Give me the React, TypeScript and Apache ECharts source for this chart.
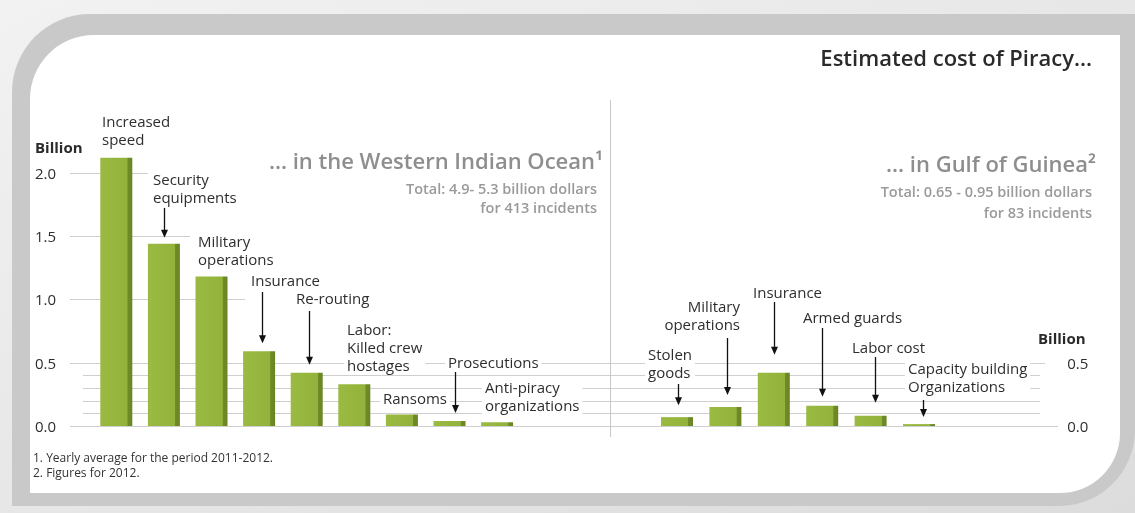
import React, { useEffect, useRef } from "react";
import * as echarts from "echarts";

// ---------- data ----------
const wioCategories = [
  "Increased speed",
  "Security equipments",
  "Military operations",
  "Insurance",
  "Re-routing",
  "Labor: Killed crew hostages",
  "Ransoms",
  "Prosecutions",
  "Anti-piracy organizations",
];
const wioValues = [2.12, 1.44, 1.18, 0.59, 0.42, 0.33, 0.09, 0.04, 0.03];

const gogCategories = [
  "Stolen goods",
  "Military operations",
  "Insurance",
  "Armed guards",
  "Labor cost",
  "Capacity building Organizations",
];
const gogValues = [0.07, 0.15, 0.42, 0.16, 0.08, 0.015];

const leftTicks = [0, 0.5, 1.0, 1.5, 2.0];
const rightTicks = [0, 0.5];
const minorTicks = [0.1, 0.2, 0.3, 0.4];

// ---------- layout / style ----------
const FONT = '"Open Sans", "Noto Sans", sans-serif';
const TXT = "#2e2e2e";
const GRID_COLOR = "#cfcfcf";

// partial major gridlines (value -> x extents)
const majorLineExtents: Record<string, [number, number]> = {
  "2": [70, 148],
  "1.5": [70, 190],
  "1": [70, 245],
  "0.5": [70, 1045],
  "0": [70, 1058],
};
const minorLineExtent: [number, number] = [83, 1040];

type Lbl = {
  text: string;
  x: number;
  top: number;
  lh: number;
  align?: "left" | "right";
};
const wioLabels: Lbl[] = [
  { text: "Increased\nspeed", x: 102, top: 112, lh: 18 },
  { text: "Security\nequipments", x: 153, top: 170, lh: 18 },
  { text: "Military\noperations", x: 198, top: 232, lh: 18 },
  { text: "Insurance", x: 251, top: 271, lh: 18 },
  { text: "Re-routing", x: 296, top: 289, lh: 18 },
  { text: "Labor:\nKilled crew\nhostages", x: 347, top: 320, lh: 18 },
  { text: "Ransoms", x: 383, top: 389, lh: 18 },
  { text: "Prosecutions", x: 448, top: 353, lh: 18 },
  { text: "Anti-piracy\norganizations", x: 485, top: 378, lh: 18 },
];
const gogLabels: Lbl[] = [
  { text: "Stolen\ngoods", x: 648, top: 345, lh: 18 },
  { text: "Military\noperations", x: 740, top: 297, lh: 18, align: "right" },
  { text: "Insurance", x: 753, top: 283, lh: 18 },
  { text: "Armed guards", x: 803, top: 308, lh: 18 },
  { text: "Labor cost", x: 852, top: 338, lh: 18 },
  { text: "Capacity building\nOrganizations", x: 908, top: 359, lh: 18 },
];

// arrows: [grid, barIndex, dx, startY, gap above bar top]
const arrows: [number, number, number, number, number][] = [
  [0, 1, 0, 208, 6],
  [0, 3, 3, 292, 8],
  [0, 4, 2, 311, 8],
  [0, 7, 6, 372, 8],
  [1, 0, 1, 384, 12],
  [1, 1, 2, 338, 12],
  [1, 2, 0, 302, 18],
  [1, 3, 0, 328, 9],
  [1, 4, 4, 357, 13],
  [1, 5, 4, 400, 7],
];

const barColor = {
  type: "linear",
  x: 0,
  y: 0,
  x2: 1,
  y2: 0,
  colorStops: [
    { offset: 0, color: "#9aba42" },
    { offset: 0.84, color: "#93b23b" },
    { offset: 0.86, color: "#6f8b27" },
    { offset: 1, color: "#6a8523" },
  ],
};

export default function App() {
  const ref = useRef<HTMLDivElement>(null);

  useEffect(() => {
    if (!ref.current) return;
    const chart = echarts.init(ref.current, null, { renderer: "svg" });

    const yCommon = {
      type: "value",
      min: 0,
      max: 2.2,
      interval: 0.5,
      axisLine: { show: false },
      axisTick: { show: false },
      splitLine: { show: false },
    };

    chart.setOption({
      animation: false,
      grid: [
        { left: 92.5, top: 147.5, width: 428.4, height: 278.5 },
        { left: 652.8, top: 147.5, width: 290.4, height: 278.5 },
      ],
      xAxis: [
        { type: "category", gridIndex: 0, data: wioCategories, show: false },
        { type: "category", gridIndex: 1, data: gogCategories, show: false },
      ],
      yAxis: [
        {
          ...yCommon,
          gridIndex: 0,
          axisLabel: {
            align: "left",
            margin: 57.5,
            color: TXT,
            fontFamily: FONT,
            fontSize: 15,
            formatter: (v: number) =>
              leftTicks.some((t) => Math.abs(t - v) < 1e-6) ? v.toFixed(1) : "",
          },
        },
        {
          ...yCommon,
          gridIndex: 1,
          position: "right",
          axisLabel: {
            align: "left",
            margin: 124,
            color: TXT,
            fontFamily: FONT,
            fontSize: 15,
            formatter: (v: number) =>
              rightTicks.some((t) => Math.abs(t - v) < 1e-6) ? v.toFixed(1) : "",
          },
        },
      ],
      series: [
        {
          type: "bar",
          xAxisIndex: 0,
          yAxisIndex: 0,
          data: wioValues,
          barWidth: 32,
          itemStyle: { color: barColor },
          z: 3,
        },
        {
          type: "bar",
          xAxisIndex: 1,
          yAxisIndex: 1,
          data: gogValues,
          barWidth: 32,
          itemStyle: { color: barColor },
          z: 3,
        },
      ],
    });

    const px = (g: number, i: number, v: number) =>
      chart.convertToPixel({ gridIndex: g } as any, [i, v]) as number[];

    const els: any[] = [];

    // frame
    els.push({
      type: "rect",
      z: -20,
      shape: { x: 0, y: 0, width: 1135, height: 513 },
      style: {
        fill: {
          type: "linear",
          x: 0,
          y: 0,
          x2: 1,
          y2: 1,
          colorStops: [
            { offset: 0, color: "#f2f2f2" },
            { offset: 1, color: "#dcdcdc" },
          ],
        },
      },
    });
    els.push({
      type: "rect",
      z: -19,
      shape: { x: 12, y: 14, width: 1123, height: 492, r: [78, 0, 76, 0] },
      style: { fill: "#c9c9c9" },
    });
    els.push({
      type: "rect",
      z: -18,
      shape: { x: 30, y: 35, width: 1090, height: 458, r: [64, 0, 60, 0] },
      style: { fill: "#ffffff" },
    });

    // gridlines
    const yOf = (v: number) => px(0, 0, v)[1];
    leftTicks.forEach((v) => {
      const ext = majorLineExtents[String(v)];
      if (!ext) return;
      const y = Math.round(yOf(v)) + 0.5;
      els.push({
        type: "line",
        z: 1,
        shape: { x1: ext[0], y1: y, x2: ext[1], y2: y },
        style: { stroke: GRID_COLOR, lineWidth: 1 },
      });
    });
    minorTicks.forEach((v) => {
      const y = Math.round(yOf(v)) + 0.5;
      els.push({
        type: "line",
        z: 1,
        shape: { x1: minorLineExtent[0], y1: y, x2: minorLineExtent[1], y2: y },
        style: { stroke: GRID_COLOR, lineWidth: 1 },
      });
    });

    // divider
    els.push({
      type: "line",
      z: 1,
      shape: { x1: 610.5, y1: 100, x2: 610.5, y2: 437 },
      style: { stroke: "#c8c8c8", lineWidth: 1 },
    });

    // bar labels
    const addLabel = (l: Lbl) => {
      const right = l.align === "right";
      els.push({
        type: "text",
        z: 5,
        x: right ? l.x + 3 : l.x - 3,
        y: l.top,
        style: {
          text: l.text,
          fill: TXT,
          fontFamily: FONT,
          fontSize: 15,
          lineHeight: l.lh,
          align: right ? "right" : "left",
          textAlign: right ? "right" : "left",
          verticalAlign: "top",
          textVerticalAlign: "top",
          backgroundColor: "#ffffff",
          padding: [0, 3, 0, 3],
        },
      });
    };
    wioLabels.forEach(addLabel);
    gogLabels.forEach(addLabel);

    // arrows
    const vals = [wioValues, gogValues];
    arrows.forEach(([g, i, dx, y1, gap]) => {
      const p = px(g, i, vals[g][i]);
      const x = Math.round(p[0] + dx) + 0.5;
      const end = p[1] - gap;
      els.push({
        type: "line",
        z: 6,
        shape: { x1: x, y1, x2: x, y2: end - 5 },
        style: { stroke: "#111", lineWidth: 1.3 },
      });
      els.push({
        type: "polygon",
        z: 6,
        shape: {
          points: [
            [x - 3.5, end - 8],
            [x + 3.5, end - 8],
            [x, end],
          ],
        },
        style: { fill: "#111" },
      });
    });

    const text = (
      t: string,
      x: number,
      y: number,
      size: number,
      color: string,
      weight: string | number,
      align: "left" | "right"
    ) => ({
      type: "text",
      z: 5,
      x,
      y,
      style: {
        text: t,
        fill: color,
        fontFamily: FONT,
        fontSize: size,
        fontWeight: weight,
        align,
        textAlign: align,
        verticalAlign: "middle",
        textVerticalAlign: "middle",
      },
    });

    els.push(text("Estimated cost of Piracy...", 1092, 57, 22, "#2a2a2a", 600, "right"));
    els.push(text("... in the Western Indian Ocean\u00B9", 603, 160, 22, "#8e8e8e", 600, "right"));
    els.push(text("Total: 4.9- 5.3 billion dollars", 597, 188, 14.5, "#9a9a9a", 600, "right"));
    els.push(text("for 413 incidents", 597, 207, 14.5, "#9a9a9a", 600, "right"));
    els.push(text("... in Gulf of Guinea\u00B2", 1096, 163, 22, "#8e8e8e", 600, "right"));
    els.push(text("Total: 0.65 - 0.95 billion dollars", 1092, 191, 14.5, "#9a9a9a", 600, "right"));
    els.push(text("for 83 incidents", 1092, 212, 14.5, "#9a9a9a", 600, "right"));
    els.push(text("Billion", 35, 147, 15, "#2a2a2a", "bold", "left"));
    els.push(text("Billion", 1038, 338, 15, "#2a2a2a", "bold", "left"));
    els.push(text("1. Yearly average for the period 2011-2012.", 33, 457, 12, "#333", "normal", "left"));
    els.push(text("2. Figures for 2012.", 33, 472, 12, "#333", "normal", "left"));

    chart.setOption({ graphic: { elements: els } });

    return () => chart.dispose();
  }, []);

  return (
    <div
      ref={ref}
      style={{ position: "fixed", left: 0, top: 0, width: 1135, height: 513 }}
    />
  );
}
